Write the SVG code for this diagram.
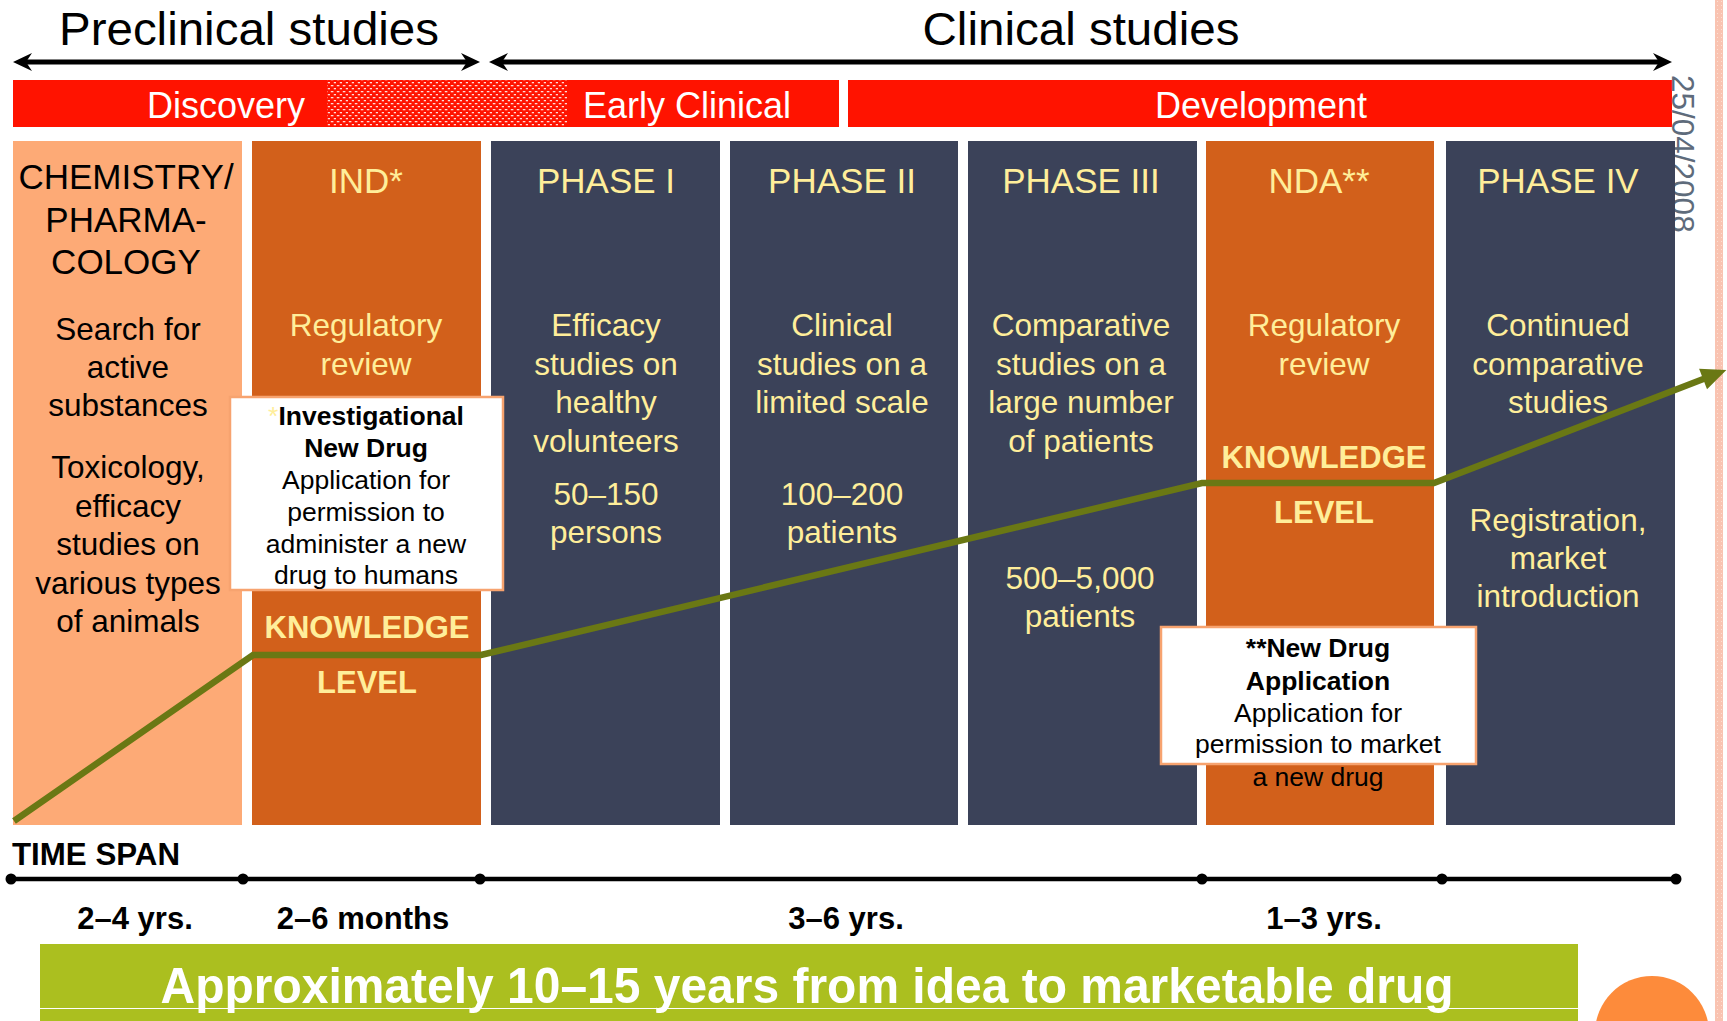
<svg xmlns="http://www.w3.org/2000/svg" width="1727" height="1021" viewBox="0 0 1727 1021">
  <style>
    text { font-family: "Liberation Sans", Arial, sans-serif; }
    .hdr { font-size: 46px; fill: #000; text-anchor: middle; }
    .band { font-size: 36px; fill: #fff; text-anchor: middle; }
    .title { font-size: 35px; text-anchor: middle; }
    .body { font-size: 31.5px; text-anchor: middle; }
    .dark { fill: #000; }
    .pale { fill: #FFEE9A; }
    .know { font-size: 31px; font-weight: bold; fill: #FFEE9A; text-anchor: middle; }
    .note { font-size: 26.5px; fill: #000; text-anchor: middle; }
    .noteb { font-size: 26.5px; font-weight: bold; fill: #000; text-anchor: middle; }
    .span { font-size: 31px; font-weight: bold; fill: #000; text-anchor: middle; }
    .col-light { fill: #FDAA76; }
    .col-orange { fill: #D2601B; }
    .col-navy { fill: #3B4259; }
    .notebox { fill: #fff; stroke: #F7A36F; stroke-width: 2.5; }
  </style>
  <defs>
    <pattern id="dots" width="6" height="6" patternUnits="userSpaceOnUse">
      <rect width="6" height="6" fill="#FF1300"/>
      <rect x="0.8" y="1" width="2.6" height="1.3" fill="#fff" opacity="0.85"/>
      <rect x="3.8" y="4" width="2.6" height="1.3" fill="#fff" opacity="0.85"/>
    </pattern>
    <pattern id="pinkdots" width="4" height="4" patternUnits="userSpaceOnUse">
      <rect width="4" height="4" fill="#F9C3B1"/>
      <rect x="1" y="1" width="1" height="1" fill="#FCE0D6"/>
    </pattern>
    <!-- tip sits 12 units beyond the line end so the stroke hides inside the head -->
    <marker id="stealth" markerUnits="userSpaceOnUse" markerWidth="24" markerHeight="20" refX="0" refY="0" orient="auto-start-reverse" overflow="visible">
      <path d="M12,0 L-7,-9 L-1,0 L-7,9 Z" fill="#000"/>
    </marker>
    <marker id="greenhead" markerUnits="userSpaceOnUse" markerWidth="30" markerHeight="30" refX="0" refY="0" orient="auto" overflow="visible">
      <path d="M-1,-11 L24,0 L-1,11 Z" fill="#6A7814"/>
    </marker>
  </defs>

  <!-- page edge strip and corner ornament -->
  <rect x="1715" y="0" width="8" height="1021" fill="url(#pinkdots)"/>
  <circle cx="1652" cy="1033" r="57" fill="#FD8B3B"/>

  <!-- section headings -->
  <text class="hdr" x="249" y="45" textLength="380" lengthAdjust="spacingAndGlyphs">Preclinical studies</text>
  <text class="hdr" x="1081" y="45" textLength="317" lengthAdjust="spacingAndGlyphs">Clinical studies</text>

  <!-- stage bands -->
  <g id="band-discovery">
    <rect x="13" y="80" width="315" height="47" fill="#FF1300"/>
    <rect x="327" y="80" width="241" height="47" fill="url(#dots)"/>
    <rect x="567" y="80" width="272" height="47" fill="#FF1300"/>
    <text class="band" x="226" y="118">Discovery</text>
    <text class="band" x="687" y="118">Early Clinical</text>
  </g>
  <g id="band-development">
    <rect x="848" y="80" width="824" height="47" fill="#FF1300"/>
    <text class="band" x="1261" y="118">Development</text>
  </g>

  <!-- date stamp -->
  <text x="1672" y="75" transform="rotate(90 1672 75)" font-size="31.5" fill="#5E6B7B">25/04/2008</text>

  <!-- stage columns -->
  <g id="col-chemistry">
    <rect class="col-light" x="13" y="141" width="229" height="684"/>
    <text class="title dark" x="126" y="189">CHEMISTRY/</text>
    <text class="title dark" x="126" y="232">PHARMA-</text>
    <text class="title dark" x="126" y="274">COLOGY</text>
    <text class="body dark" x="128" y="340">Search for</text>
    <text class="body dark" x="128" y="378">active</text>
    <text class="body dark" x="128" y="416">substances</text>
    <text class="body dark" x="128" y="478">Toxicology,</text>
    <text class="body dark" x="128" y="516.5">efficacy</text>
    <text class="body dark" x="128" y="555">studies on</text>
    <text class="body dark" x="128" y="593.5">various types</text>
    <text class="body dark" x="128" y="632">of animals</text>
  </g>

  <g id="col-ind">
    <rect class="col-orange" x="252" y="141" width="229" height="684"/>
    <text class="title pale" x="366" y="193">IND*</text>
    <text class="body pale" x="366" y="336">Regulatory</text>
    <text class="body pale" x="366" y="374.5">review</text>
    <text class="know" x="367" y="638">KNOWLEDGE</text>
    <text class="know" x="367" y="693">LEVEL</text>
  </g>

  <g id="col-phase1">
    <rect class="col-navy" x="491" y="141" width="229" height="684"/>
    <text class="title pale" x="606" y="193">PHASE I</text>
    <text class="body pale" x="606" y="336">Efficacy</text>
    <text class="body pale" x="606" y="374.5">studies on</text>
    <text class="body pale" x="606" y="413">healthy</text>
    <text class="body pale" x="606" y="451.5">volunteers</text>
    <text class="body pale" x="606" y="504.5">50–150</text>
    <text class="body pale" x="606" y="543">persons</text>
  </g>

  <g id="col-phase2">
    <rect class="col-navy" x="730" y="141" width="228" height="684"/>
    <text class="title pale" x="842" y="193">PHASE II</text>
    <text class="body pale" x="842" y="336">Clinical</text>
    <text class="body pale" x="842" y="374.5">studies on a</text>
    <text class="body pale" x="842" y="413">limited scale</text>
    <text class="body pale" x="842" y="504.5">100–200</text>
    <text class="body pale" x="842" y="543">patients</text>
  </g>

  <g id="col-phase3">
    <rect class="col-navy" x="968" y="141" width="229" height="684"/>
    <text class="title pale" x="1081" y="193">PHASE III</text>
    <text class="body pale" x="1081" y="336">Comparative</text>
    <text class="body pale" x="1081" y="374.5">studies on a</text>
    <text class="body pale" x="1081" y="413">large number</text>
    <text class="body pale" x="1081" y="451.5">of patients</text>
    <text class="body pale" x="1080" y="589">500–5,000</text>
    <text class="body pale" x="1080" y="627">patients</text>
  </g>

  <g id="col-nda">
    <rect class="col-orange" x="1206" y="141" width="228" height="684"/>
    <text class="title pale" x="1319" y="193">NDA**</text>
    <text class="body pale" x="1324" y="336">Regulatory</text>
    <text class="body pale" x="1324" y="374.5">review</text>
    <text class="know" x="1324" y="468">KNOWLEDGE</text>
    <text class="know" x="1324" y="523">LEVEL</text>
    <text class="note" x="1318" y="786">a new drug</text>
  </g>

  <g id="col-phase4">
    <rect class="col-navy" x="1446" y="141" width="229" height="684"/>
    <text class="title pale" x="1558" y="193">PHASE IV</text>
    <text class="body pale" x="1558" y="336">Continued</text>
    <text class="body pale" x="1558" y="374.5">comparative</text>
    <text class="body pale" x="1558" y="413">studies</text>
    <text class="body pale" x="1558" y="531">Registration,</text>
    <text class="body pale" x="1558" y="569">market</text>
    <text class="body pale" x="1558" y="607">introduction</text>
  </g>

  <!-- footnote boxes -->
  <g id="note-ind">
    <rect class="notebox" x="230" y="397" width="273" height="193"/>
    <text class="noteb" x="366" y="425"><tspan fill="#FFEE9A" font-weight="normal">*</tspan>Investigational</text>
    <text class="noteb" x="366" y="457">New Drug</text>
    <text class="note" x="366" y="489">Application for</text>
    <text class="note" x="366" y="521">permission to</text>
    <text class="note" x="366" y="553">administer a new</text>
    <text class="note" x="366" y="584">drug to humans</text>
  </g>

  <g id="note-nda">
    <rect class="notebox" x="1161" y="627" width="315" height="137"/>
    <text class="noteb" x="1318" y="657">**New Drug</text>
    <text class="noteb" x="1318" y="690">Application</text>
    <text class="note" x="1318" y="722">Application for</text>
    <text class="note" x="1318" y="753">permission to market</text>
  </g>

  <!-- connectors: scope arrows and knowledge-level curve -->
  <g id="connectors" fill="none">
    <line x1="25" y1="62" x2="468" y2="62" stroke="#000" stroke-width="5" marker-start="url(#stealth)" marker-end="url(#stealth)"/>
    <line x1="501" y1="62" x2="1660" y2="62" stroke="#000" stroke-width="5" marker-start="url(#stealth)" marker-end="url(#stealth)"/>
    <path d="M14,821 L253,655 L481,655 L1202,483 L1434,483 L1704,378.7" stroke="#6A7814" stroke-width="6.5" stroke-linejoin="miter" marker-end="url(#greenhead)"/>
  </g>

  <!-- time span scale -->
  <g id="timeline">
    <text x="12" y="865" font-size="31" font-weight="bold" fill="#000" textLength="168" lengthAdjust="spacingAndGlyphs">TIME SPAN</text>
    <line x1="11" y1="879" x2="1676" y2="879" stroke="#000" stroke-width="4.5"/>
    <circle cx="11" cy="879" r="5.5" fill="#000"/>
    <circle cx="243" cy="879" r="5.5" fill="#000"/>
    <circle cx="480" cy="879" r="5.5" fill="#000"/>
    <circle cx="1202" cy="879" r="5.5" fill="#000"/>
    <circle cx="1442" cy="879" r="5.5" fill="#000"/>
    <circle cx="1676" cy="879" r="5.5" fill="#000"/>
    <text class="span" x="135" y="929">2–4 yrs.</text>
    <text class="span" x="363" y="929">2–6 months</text>
    <text class="span" x="846" y="929">3–6 yrs.</text>
    <text class="span" x="1324" y="929">1–3 yrs.</text>
  </g>

  <!-- summary banner -->
  <g id="summary">
    <rect x="40" y="944" width="1538" height="77" fill="#ABBF1F"/>
    <line x1="40" y1="1008.5" x2="1578" y2="1008.5" stroke="#fff" stroke-width="1.2"/>
    <text x="807" y="1003" font-size="50" font-weight="bold" fill="#fff" text-anchor="middle" textLength="1293" lengthAdjust="spacingAndGlyphs">Approximately 10–15 years from idea to marketable drug</text>
  </g>
</svg>
